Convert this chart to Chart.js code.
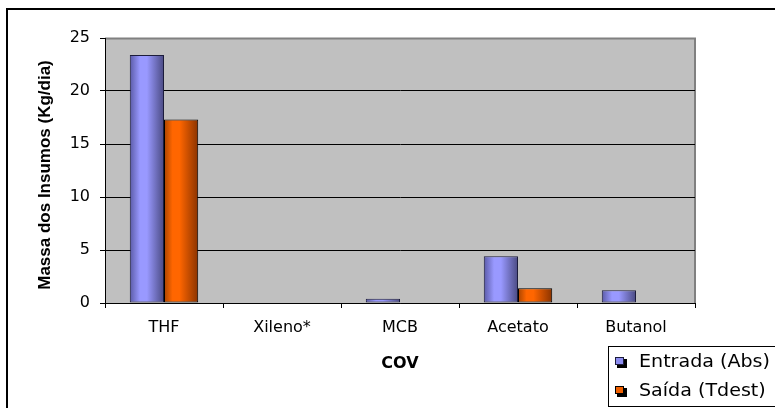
<!DOCTYPE html>
<html>
<head>
<meta charset="utf-8">
<script src="https://cdn.jsdelivr.net/npm/chart.js@4/dist/chart.umd.min.js"></script>
<style>
  html, body { margin: 0; padding: 0; background: #fff; }
  #grafico { display: block; }
</style>
</head>
<body>
<canvas id="grafico" width="775" height="408"></canvas>
<script>
// compostos organicos volateis (COV) e massa diaria por corrente
var categorias = ['THF', 'Xileno*', 'MCB', 'Acetato', 'Butanol'];
var entradaAbs = [23.4, null, 0.4, 4.4, 1.2];
var saidaTdest = [17.3, null, null, 1.4, null];
var nomesSeries = ['Entrada (Abs)', 'Saída (Tdest)'];
var ticksY = [0, 5, 10, 15, 20, 25];
var tituloY = 'Massa dos Insumos (Kg/dia)';
var tituloX = 'COV';

// degrade horizontal de cada coluna (efeito cilindro)
var paradas = [
    [[0, '#5a5aa6'], [0.3, '#9999ff'], [0.5, '#9999ff'], [1, '#4a4a82']],
    [[0, '#a84400'], [0.25, '#ff6600'], [0.45, '#ff6600'], [1, '#8a3300']]
];
var coresBorda = ['#1c1c3c', '#000000'];
var coresLegenda = ['#8c8cf0', '#f06000'];
var fatorCategoria = 0.58;

function corColuna(ctx){
    var chart = ctx.chart, escala = chart.scales.x, area = chart.chartArea, larg, centro, x0, grad;
    if(!escala || !area){
        return paradas[ctx.datasetIndex][1][1];
    }
    larg = (area.right - area.left) / categorias.length * fatorCategoria / 2;
    centro = escala.getPixelForValue(ctx.dataIndex);
    x0 = ctx.datasetIndex === 0 ? centro - larg : centro;
    grad = chart.ctx.createLinearGradient(x0, 0, x0 + larg, 0);
    paradas[ctx.datasetIndex].forEach(function(p){ grad.addColorStop(p[0], p[1]); });
    return grad;
}

/*Fundo cinza da area de plotagem, moldura externa, titulos e legenda*/
var molduraPlugin = {
    id: 'moldura',
    beforeDraw: function(chart){
        var c = chart.ctx, a = chart.chartArea;
        c.save();
        c.fillStyle = '#ffffff';
        c.fillRect(0, 0, chart.width, chart.height);
        c.fillStyle = '#c0c0c0';
        c.fillRect(a.left, a.top, a.right - a.left, a.bottom - a.top);
        c.strokeStyle = '#808080';
        c.lineWidth = 2;
        c.beginPath();
        c.moveTo(a.left, a.top + 0.5);
        c.lineTo(a.right, a.top + 0.5);
        c.lineTo(a.right, a.bottom);
        c.stroke();
        c.strokeStyle = '#000000';
        c.lineWidth = 2;
        c.strokeRect(7, 9, 820, 440);
        c.restore();
    },
    afterDraw: function(chart){
        var c = chart.ctx, i, y, esticar;
        c.save();
        c.fillStyle = '#000000';
        // titulo do eixo Y
        c.translate(45, 175);
        c.rotate(-Math.PI / 2);
        c.font = 'bold 17px "Liberation Sans", Arial, sans-serif';
        c.textAlign = 'center';
        c.textBaseline = 'middle';
        c.fillText(tituloY, 0, 0);
        c.restore();

        c.save();
        c.fillStyle = '#000000';
        c.font = 'bold 16px "DejaVu Sans", sans-serif';
        c.textAlign = 'center';
        c.textBaseline = 'middle';
        c.fillText(tituloX, (chart.chartArea.left + chart.chartArea.right) / 2, 364);

        // legenda
        c.strokeStyle = '#000000';
        c.lineWidth = 1;
        c.strokeRect(608.5, 346.5, 200, 60);
        c.font = '18px "DejaVu Sans", sans-serif';
        c.textAlign = 'left';
        esticar = 131 / c.measureText(nomesSeries[0]).width;
        for(i = 0; i < nomesSeries.length; i++){
            y = 362 + i * 29;
            c.fillStyle = '#000000';
            c.fillRect(617, y - 3, 10, 9);
            c.fillStyle = coresLegenda[i];
            c.fillRect(615, y - 5, 9, 8);
            c.strokeStyle = coresBorda[i];
            c.strokeRect(615.5, y - 4.5, 8, 7);
            c.save();
            c.translate(639, y);
            c.scale(esticar, 1);
            c.fillStyle = '#000000';
            c.fillText(nomesSeries[i], 0, 0);
            c.restore();
        }
        c.restore();
    }
};

var grafico = new Chart(document.getElementById('grafico'), {
    type: 'bar',
    data: {
        labels: categorias,
        datasets: [{
            label: nomesSeries[0],
            data: entradaAbs,
            backgroundColor: corColuna,
            borderColor: coresBorda[0],
            borderWidth: 1,
            borderSkipped: false
        }, {
            label: nomesSeries[1],
            data: saidaTdest,
            backgroundColor: corColuna,
            borderColor: coresBorda[1],
            borderWidth: 1,
            borderSkipped: false
        }]
    },
    options: {
        responsive: false,
        animation: false,
        devicePixelRatio: 1,
        datasets: { bar: { categoryPercentage: fatorCategoria, barPercentage: 1 } },
        layout: { padding: { top: 38, right: 80, left: 0, bottom: 0 } },
        plugins: {
            legend: { display: false },
            tooltip: { enabled: false }
        },
        scales: {
            x: {
                grid: { drawOnChartArea: false, offset: true, tickLength: 5, color: '#000', tickColor: '#000' },
                border: { color: '#000', width: 1 },
                ticks: { color: '#000', padding: 10, font: { family: '"DejaVu Sans", sans-serif', size: 16 } },
                afterFit: function(escala){ escala.height = 105; }
            },
            y: {
                min: 0,
                max: ticksY[ticksY.length - 1],
                afterBuildTicks: function(escala){
                    escala.ticks = ticksY.map(function(v){ return { value: v }; });
                },
                grid: {
                    color: function(ctx){ return ctx.tick && ctx.tick.value === 25 ? 'rgba(0,0,0,0)' : '#000'; },
                    tickColor: '#000',
                    tickLength: 5
                },
                border: { color: '#000', width: 1 },
                ticks: { color: '#000', padding: 10, font: { family: '"DejaVu Sans", sans-serif', size: 16 } },
                afterFit: function(escala){ escala.width = 105; }
            }
        }
    },
    plugins: [molduraPlugin]
});
</script>
</body>
</html>
